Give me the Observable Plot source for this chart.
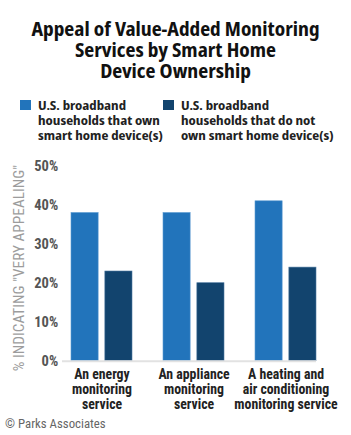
<!DOCTYPE html>
<html>
<head>
<meta charset="utf-8">
<script src="https://cdn.jsdelivr.net/npm/d3@7"></script>
<script src="https://cdn.jsdelivr.net/npm/@observablehq/plot@0.6"></script>
<style>
  html, body { margin: 0; padding: 0; background: #fff; }
  #root { position: relative; width: 351px; height: 435px; overflow: hidden; }
  #title { position: absolute; left: 0; top: 19px; width: 351px; text-align: center;
    font-family: "Noto Sans Display", sans-serif; font-stretch: semi-condensed;
    font-weight: bold; font-size: 19px; line-height: 21px; color: #111; white-space: nowrap; }
  .leg { position: absolute; top: 97.5px; font-family: "Noto Sans Display", sans-serif; font-stretch: semi-condensed;
    font-weight: bold; font-size: 13.2px; line-height: 15px; color: #222; white-space: nowrap; }
  .sw { position: absolute; top: 2px; left: -18px; width: 10.5px; height: 10.5px; }
  #chart { position: absolute; left: 0; top: 140px; }
  #caption { position: absolute; left: 5px; top: 415.5px; font-size: 12.8px; line-height: 15px; color: #666;
    font-family: "Roboto", sans-serif; font-stretch: condensed; white-space: nowrap; }
</style>
</head>
<body>
<div id="root">
  <div id="title">Appeal of Value-Added Monitoring<br>Services by Smart Home<br>Device Ownership</div>
  <div class="leg" id="leg0" style="left:38px"></div>
  <div class="leg" id="leg1" style="left:181px"></div>
  <div id="chart"></div>
  <div id="caption">© Parks Associates</div>
</div>
<script>
const categories = ["An energy monitoring service", "An appliance monitoring service", "A heating and air conditioning monitoring service"];
const categoryLabels = ["An energy\nmonitoring\nservice", "An appliance\nmonitoring\nservice", "A heating and\nair conditioning\nmonitoring service"];
const seriesNames = ["U.S. broadband households that own smart home device(s)", "U.S. broadband households that do not own smart home device(s)"];
const legendLabels = ["U.S. broadband<br>households that own<br>smart home device(s)", "U.S. broadband<br>households that do not<br>own smart home device(s)"];
const owners = [38, 38, 41];
const nonOwners = [23, 20, 24];
const yTicks = [0, 10, 20, 30, 40, 50];
const yLabel = '% INDICATING "VERY APPEALING"';
const colors = ["#2274bb", "#12446e"];

const ownersData = categories.map((c, i) => ({category: c, value: owners[i]}));
const nonOwnersData = categories.map((c, i) => ({category: c, value: nonOwners[i]}));
const labelData = categories.map((c, i) => ({category: c, label: categoryLabels[i]}));

seriesNames.forEach((s, i) => {
  const el = document.getElementById("leg" + i);
  el.innerHTML = `<span class="sw" style="background:${colors[i]}"></span>` + legendLabels[i];
});

const top0 = 140;
const W = 351, H = 272;
const bandwidth = 61.35, barW = 27.5;
const plot = Plot.plot({
  width: W,
  height: H,
  marginLeft: 62,
  marginRight: 35,
  marginTop: 165.7 - top0,
  marginBottom: H - (360.7 - top0),
  style: {fontFamily: "Roboto, sans-serif", fontStretch: "condensed", background: "transparent", overflow: "visible"},
  x: {domain: categories, paddingInner: 0.339, paddingOuter: 0.0378, align: 1, axis: null},
  y: {domain: [0, 50], axis: null},
  marks: [
    Plot.barY(ownersData, {x: "category", y: "value", fill: colors[0], stroke: "#5d9bd2", strokeWidth: 0.6, insetRight: bandwidth - barW}),
    Plot.barY(nonOwnersData, {x: "category", y: "value", fill: colors[1], stroke: "#4f7aa0", strokeWidth: 0.6, insetLeft: bandwidth - barW}),
    Plot.ruleY([0], {stroke: "#e2e2e2", strokeWidth: 2}),
    Plot.axisY({ticks: yTicks, tickFormat: d => d + "%", tickSize: 0, tickPadding: 4.3, line: true,
      stroke: "#8a8a8a", strokeDasharray: "1,2", fontSize: 14.5, fontWeight: "bold", fill: "#555", label: null}),
    Plot.text([yLabel], {frameAnchor: "left", textAnchor: "middle", lineAnchor: "middle", dx: -43.3, dy: 4.3, rotate: -90, text: d => d,
      fill: "#9c9c9c", fontSize: 15.3}),
    Plot.text(labelData, {x: "category", text: "label", frameAnchor: "bottom", lineAnchor: "top", dy: 7.5,
      fontSize: 13.8, fontWeight: "bold", fill: "#222", lineHeight: 1.087})
  ]
});
document.getElementById("chart").appendChild(plot);
</script>
</body>
</html>
